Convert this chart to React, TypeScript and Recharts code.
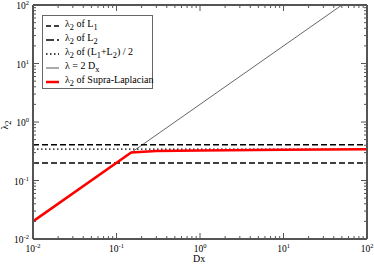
import { LineChart, Line, XAxis, YAxis } from "recharts";

// decades shown on both log axes
const majorTicks = [0.01, 0.1, 1, 10, 100];
const minorSteps = [2, 3, 4, 5, 6, 7, 8, 9];
const minorTicks = majorTicks.slice(0, -1).flatMap((m) => minorSteps.map((s) => +(m * s).toPrecision(3)));
const allTicks = [...majorTicks, ...minorTicks].sort((a, b) => a - b);

const lambdaL1 = [
  { x: 0.01, y: 0.2 },
  { x: 100, y: 0.2 },
];
const lambdaL2 = [
  { x: 0.01, y: 0.41 },
  { x: 100, y: 0.41 },
];
const lambdaAvg = [
  { x: 0.01, y: 0.345 },
  { x: 100, y: 0.345 },
];
const twoDx = [
  { x: 0.01, y: 0.02 },
  { x: 50, y: 100 },
];
const supra = [
  { x: 0.01, y: 0.02 },
  { x: 0.15, y: 0.3 },
  { x: 0.3, y: 0.318 },
  { x: 1, y: 0.326 },
  { x: 10, y: 0.336 },
  { x: 100, y: 0.343 },
];

const FONT = "'Liberation Serif', 'DejaVu Serif', serif";
const FRAME = "#555";

const isMajor = (v: number) => majorTicks.includes(v);
const expOf = (v: number) => Math.round(Math.log10(v));

function BottomTick(props: any) {
  const { x, y, payload } = props;
  const major = isMajor(payload.value);
  return (
    <g>
      <line x1={x} x2={x} y1={y} y2={y - (major ? 6 : 3)} stroke={FRAME} strokeWidth={1} />
      {major && (
        <text x={x} y={y + 13} textAnchor="middle" fontFamily={FONT} fontSize={9.5} fill="#000">
          10
          <tspan dy={-4.5} fontSize={6.5}>
            {expOf(payload.value)}
          </tspan>
        </text>
      )}
    </g>
  );
}

function TopTick(props: any) {
  const { x, y, payload } = props;
  const major = isMajor(payload.value);
  return <line x1={x} x2={x} y1={y} y2={y + (major ? 6 : 3)} stroke={FRAME} strokeWidth={1} />;
}

function LeftTick(props: any) {
  const { x, y, payload } = props;
  const major = isMajor(payload.value);
  return (
    <g>
      <line x1={x} x2={x + (major ? 6 : 3)} y1={y} y2={y} stroke={FRAME} strokeWidth={1} />
      {major && (
        <text x={x - 4} y={y + 4} textAnchor="end" fontFamily={FONT} fontSize={9.5} fill="#000">
          10
          <tspan dy={-4} fontSize={6.5}>
            {expOf(payload.value)}
          </tspan>
        </text>
      )}
    </g>
  );
}

function RightTick(props: any) {
  const { x, y, payload } = props;
  const major = isMajor(payload.value);
  return <line x1={x} x2={x - (major ? 6 : 3)} y1={y} y2={y} stroke={FRAME} strokeWidth={1} />;
}

const legendItems = [
  { dash: "5 3", color: "#000", width: 1.5, label: <>λ<sub>2</sub> of L<sub>1</sub></> },
  { dash: "8 3", color: "#000", width: 1.5, label: <>λ<sub>2</sub> of L<sub>2</sub></> },
  { dash: "1.5 2.5", color: "#000", width: 1.3, label: <>λ<sub>2</sub> of (L<sub>1</sub>+L<sub>2</sub>) / 2</> },
  { dash: undefined, color: "#555", width: 1, label: <>λ = 2 D<sub>x</sub></> },
  { dash: undefined, color: "#ff0000", width: 2.5, label: <>λ<sub>2</sub> of Supra-Laplacian</> },
];

export default function App() {
  const logAxis = {
    type: "number" as const,
    scale: "log" as const,
    domain: [0.01, 100],
    ticks: allTicks,
    interval: 0 as const,
    allowDataOverflow: true,
    tickSize: 0,
    tickMargin: 0,
    tickLine: false,
    axisLine: { stroke: FRAME, strokeWidth: 2 },
  };

  return (
    <div style={{ position: "absolute", left: 0, top: 0, width: 374, height: 264, background: "#fff" }}>
      <LineChart width={374} height={264} margin={{ top: 0, right: 0, bottom: 0, left: 0 }}>
        <XAxis xAxisId="bottom" dataKey="x" orientation="bottom" height={25} {...logAxis} tick={<BottomTick />} />
        <XAxis xAxisId="top" dataKey="x" orientation="top" height={5} {...logAxis} tick={<TopTick />} />
        <YAxis yAxisId="left" dataKey="y" orientation="left" width={33} {...logAxis} tick={<LeftTick />} />
        <YAxis yAxisId="right" dataKey="y" orientation="right" width={7} {...logAxis} tick={<RightTick />} />

        <Line xAxisId="bottom" yAxisId="left" data={twoDx} dataKey="y" stroke="#555" strokeWidth={0.9} dot={false} isAnimationActive={false} />
        <Line xAxisId="bottom" yAxisId="left" data={lambdaL1} dataKey="y" stroke="#000" strokeWidth={1.5} strokeDasharray="6 3" dot={false} isAnimationActive={false} />
        <Line xAxisId="bottom" yAxisId="left" data={lambdaL2} dataKey="y" stroke="#000" strokeWidth={1.5} strokeDasharray="6 3" dot={false} isAnimationActive={false} />
        <Line xAxisId="bottom" yAxisId="left" data={lambdaAvg} dataKey="y" stroke="#000" strokeWidth={1.3} strokeDasharray="1.5 2.5" dot={false} isAnimationActive={false} />
        <Line xAxisId="bottom" yAxisId="left" data={supra} dataKey="y" stroke="#ff0000" strokeWidth={2.5} dot={false} isAnimationActive={false} />
      </LineChart>

      <div
        style={{
          position: "absolute",
          left: 42,
          top: 15,
          width: 111,
          height: 74,
          boxSizing: "border-box",
          border: "1px solid #666",
          background: "#fff",
          fontFamily: FONT,
          fontSize: 10,
          paddingTop: 3,
        }}
      >
        {legendItems.map((it, i) => (
          <div key={i} style={{ display: "flex", alignItems: "center", height: 14, lineHeight: "14px" }}>
            <svg width={22} height={14} style={{ flex: "none" }}>
              <line x1={3} x2={16} y1={7} y2={7} stroke={it.color} strokeWidth={it.width} strokeDasharray={it.dash} />
            </svg>
            <span style={{ whiteSpace: "nowrap" }}>{it.label}</span>
          </div>
        ))}
      </div>

      <div
        style={{
          position: "absolute",
          left: 1,
          top: 118,
          fontFamily: FONT,
          fontSize: 10,
          transform: "rotate(-90deg)",
          transformOrigin: "center",
        }}
      >
        λ<sub>2</sub>
      </div>
      <div style={{ position: "absolute", left: 193, top: 254, fontFamily: FONT, fontSize: 10, lineHeight: "10px" }}>Dx</div>
    </div>
  );
}
